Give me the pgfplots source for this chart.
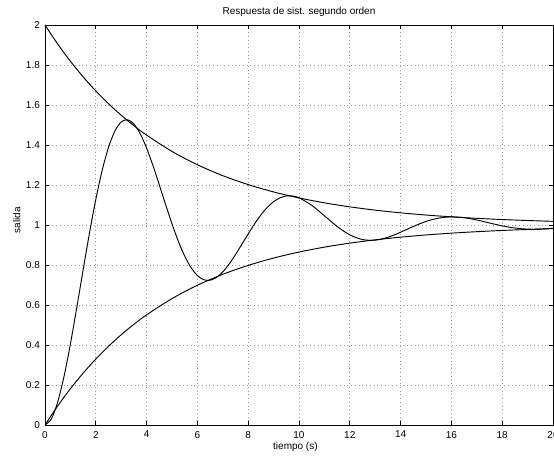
\documentclass[border=0pt]{standalone}
\usepackage{pgfplots}
\pgfplotsset{compat=1.18}
\usepackage{fontspec}
\setmainfont{Liberation Sans}
\begin{document}
\begin{tikzpicture}
\useasboundingbox (0,0) rectangle (415.5pt,342.75pt);
\begin{axis}[
  at={(33.75pt,24pt)}, anchor=south west,
  scale only axis, width=381pt, height=300pt,
  xmin=0, xmax=20, ymin=0, ymax=2,
  xtick={0,2,...,20}, ytick={0,0.2,0.4,0.6,0.8,1,1.2,1.4,1.6,1.8,2},
  yticklabels={0,0.2,0.4,0.6,0.8,1,1.2,1.4,1.6,1.8,2},
  /pgf/number format/assume math mode=true,
  tick align=inside, major tick length=3pt,
  tick style={black, line width=0.6pt},
  axis line style={line width=0.6pt},
  grid=major,
  major grid style={gray!80, line width=0.5pt, dash pattern=on 0.6pt off 2.2pt},
  tick label style={font=\fontsize{7.5}{9}\selectfont},
  yticklabel style={xshift=-0.3pt},
  xticklabel style={yshift=-1pt},
  every axis title shift=0pt,
  title={Respuesta de sist. segundo orden},
  title style={font=\fontsize{7.5}{9}\selectfont, at={(axis description cs:0.5,1.0325)}, anchor=center},
  xlabel={tiempo (s)},
  xlabel style={font=\fontsize{7.5}{9}\selectfont, at={(axis description cs:0.493,-0.055)}, anchor=center},
  ylabel={salida},
  ylabel style={font=\fontsize{7.5}{9}\selectfont, at={(axis description cs:-0.0557,0.512)}, anchor=center},
]
\addplot[black, line width=0.7pt, smooth] coordinates {
(0,0) (0.25,0.0301) (0.5,0.1145) (0.75,0.2433) (1,0.4051) (1.25,0.5863) (1.5,0.7748) (1.75,0.9587)
(2,1.1275) (2.25,1.2727) (2.5,1.3880) (2.75,1.4692) (3,1.5150) (3.25,1.5263) (3.5,1.5049) (3.75,1.4559)
(4,1.3846) (4.25,1.2972) (4.5,1.2006) (4.75,1.1014) (5,1.0056) (5.25,0.9185) (5.5,0.8446) (5.75,0.7869)
(6,0.7473) (6.25,0.7264) (6.5,0.7237) (6.75,0.7376) (7,0.7657) (7.25,0.8050) (7.5,0.8521) (7.75,0.9035)
(8,0.9556) (8.25,1.0055) (8.5,1.0502) (8.75,1.0878) (9,1.1166) (9.25,1.1357) (9.5,1.1450) (9.75,1.1448)
(10,1.1361) (10.5,1.0986) (11,1.0460) (11.5,0.9928)
(12,0.9508) (12.5,0.9273) (13,0.9242) (13.5,0.9385) (14,0.9639) (14.5,0.9926)
(15,1.0178) (15.5,1.0345) (16,1.0405) (16.5,1.0364) (17,1.0250) (17.5,1.0101)
(18,0.9957) (18.5,0.9848) (19,0.9793) (19.5,0.9794) (20,0.9840)
};
\addplot[black, line width=0.7pt, smooth] coordinates {
(0,2) (0.5,1.9048) (1,1.8187) (1.5,1.7408) (2,1.6703) (2.5,1.6065) (3,1.5488) (3.5,1.4966) (4,1.4493) (5,1.3679)
(6,1.3012) (7,1.2466) (8,1.2019) (9,1.1653) (10,1.1353) (11,1.1108) (12,1.0907)
(13,1.0743) (14,1.0608) (15,1.0498) (16,1.0408) (17,1.0334) (18,1.0273) (19,1.0224) (20,1.0183)
};
\addplot[black, line width=0.7pt, smooth] coordinates {
(0,0) (0.5,0.0952) (1,0.1813) (1.5,0.2592) (2,0.3297) (2.5,0.3935) (3,0.4512) (3.5,0.5034) (4,0.5507) (5,0.6321)
(6,0.6988) (7,0.7534) (8,0.7981) (9,0.8347) (10,0.8647) (11,0.8892) (12,0.9093)
(13,0.9257) (14,0.9392) (15,0.9502) (16,0.9592) (17,0.9666) (18,0.9727) (19,0.9776) (20,0.9817)
};
\end{axis}
\end{tikzpicture}
\end{document}
